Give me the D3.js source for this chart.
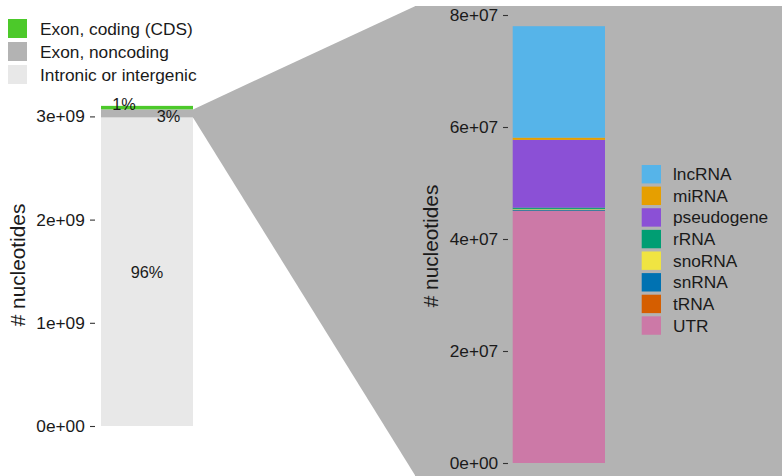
<!DOCTYPE html>
<html>
<head>
<meta charset="utf-8">
<script src="https://cdn.jsdelivr.net/npm/d3@7"></script>
<style>
  html, body { margin: 0; padding: 0; background: #ffffff; }
  svg { display: block; font-family: "Liberation Sans", Arial, Helvetica, sans-serif; }
</style>
</head>
<body>
<svg id="chart" width="782" height="476"></svg>
<script>
// Genome composition (left bar), stacked bottom to top
const genomeParts = ["Intronic or intergenic", "Exon, noncoding", "Exon, coding (CDS)"];
const genomeValues = [2.99e9, 7.8e7, 3.4e7];
const genomeColors = ["#E8E8E8", "#B3B3B3", "#4CC92A"];
const genomeLegendOrder = ["Exon, coding (CDS)", "Exon, noncoding", "Intronic or intergenic"];
const genomeTicks = [0, 1e9, 2e9, 3e9];

// Noncoding exon breakdown (right bar), stacked bottom to top
const ncTypes = ["UTR", "tRNA", "snRNA", "snoRNA", "rRNA", "pseudogene", "miRNA", "lncRNA"];
const ncValues = [4.5e7, 0.006e7, 0.02e7, 0.012e7, 0.022e7, 1.21e7, 0.04e7, 1.99e7];
const ncColors = ["#CC79A7", "#D55E00", "#0072B2", "#F0E442", "#009E73", "#8B50D6", "#E69F00", "#56B4E9"];
const ncLegendOrder = ["lncRNA", "miRNA", "pseudogene", "rRNA", "snoRNA", "snRNA", "tRNA", "UTR"];
const ncTicks = [0, 2e7, 4e7, 6e7, 8e7];

const textColor = "#1a1a1a";
const zoomGrey = "#B3B3B3";

// ggplot-style scientific labels: 3e+09, 0e+00
function sci(v) {
  if (v === 0) return "0e+00";
  const e = Math.floor(Math.log10(Math.abs(v)));
  const m = +(v / Math.pow(10, e)).toFixed(2);
  return m + "e" + (e < 0 ? "-" : "+") + String(Math.abs(e)).padStart(2, "0");
}

function stack(values) {
  let acc = 0;
  return values.map(v => { const s = { y0: acc, y1: acc + v, v }; acc += v; return s; });
}

const svg = d3.select("#chart");

// ---------- left panel scales ----------
const xL = d3.scaleBand().domain(["genome"]).range([101, 193]).padding(0);
const yL = d3.scaleLinear().domain([0, 3e9]).range([426, 116.4]);
const gStack = stack(genomeValues);
const gTotal = d3.sum(genomeValues);

// ---------- right panel geometry ----------
const panel = { x0: 415, y0: 6, x1: 782, y1: 476 };
const xR = d3.scaleBand().domain(["noncoding"]).range([512.7, 605]).padding(0);
const yR = d3.scaleLinear().domain([0, 8e7]).range([463, 15]);
const nStack = stack(ncValues);

// zoom fan joining the noncoding segment to the detail panel
const ncSeg = gStack[1];
const barRight = xL("genome") + xL.bandwidth();
svg.append("path")
  .attr("d", d3.line()([
    [barRight, yL(ncSeg.y1)],
    [panel.x0 + 0.5, panel.y0],
    [panel.x0 + 0.5, panel.y1],
    [barRight, yL(ncSeg.y0)]
  ]) + "Z")
  .attr("fill", zoomGrey);

svg.append("rect")
  .attr("x", panel.x0).attr("y", panel.y0)
  .attr("width", panel.x1 - panel.x0).attr("height", panel.y1 - panel.y0)
  .attr("fill", zoomGrey);

// ---------- left bar ----------
svg.append("g").selectAll("rect").data(gStack).join("rect")
  .attr("x", xL("genome"))
  .attr("width", xL.bandwidth())
  .attr("y", d => yL(d.y1))
  .attr("height", d => yL(d.y0) - yL(d.y1))
  .attr("fill", (d, i) => genomeColors[i]);

// percentage labels (small slices nudged sideways)
const labelNudge = [{ dx: 0, dy: 0 }, { dx: 21.5, dy: 3 }, { dx: -23, dy: -3.2 }];
svg.append("g").selectAll("text").data(gStack).join("text")
  .attr("x", (d, i) => xL("genome") + xL.bandwidth() / 2 + labelNudge[i].dx)
  .attr("y", (d, i) => yL((d.y0 + d.y1) / 2) + labelNudge[i].dy)
  .attr("text-anchor", "middle")
  .attr("dominant-baseline", "central")
  .attr("font-size", 16.3)
  .attr("fill", textColor)
  .text(d => Math.round(d.v / gTotal * 100) + "%");

// left axis
const axL = svg.append("g").attr("transform", "translate(95,0)")
  .call(d3.axisLeft(yL).tickValues(genomeTicks).tickFormat(sci).tickSize(5).tickPadding(5.2));
axL.select(".domain").remove();
axL.selectAll(".tick line").attr("stroke", "#333").attr("stroke-width", 1.1);
axL.selectAll(".tick text").attr("font-size", 17.3).attr("fill", textColor)
  .attr("font-family", "Liberation Sans, Arial, sans-serif");

svg.append("text")
  .attr("transform", "translate(17.5,265) rotate(-90)")
  .attr("text-anchor", "middle").attr("dominant-baseline", "central")
  .attr("font-size", 20.8).attr("fill", textColor)
  .text("# nucleotides");

// left legend
const legL = svg.append("g").selectAll("g").data(genomeLegendOrder).join("g")
  .attr("transform", (d, i) => `translate(8,${19 + i * 23})`);
legL.append("rect").attr("width", 19).attr("height", 19)
  .attr("fill", d => genomeColors[genomeParts.indexOf(d)]);
legL.append("text").attr("x", 32).attr("y", 9.5)
  .attr("dominant-baseline", "central")
  .attr("font-size", 17.3).attr("fill", textColor)
  .text(d => d);

// ---------- right bar ----------
svg.append("g").selectAll("rect").data(nStack).join("rect")
  .attr("x", xR("noncoding"))
  .attr("width", xR.bandwidth())
  .attr("y", d => yR(d.y1))
  .attr("height", d => yR(d.y0) - yR(d.y1))
  .attr("fill", (d, i) => ncColors[i]);

const axR = svg.append("g").attr("transform", "translate(508,0)")
  .call(d3.axisLeft(yR).tickValues(ncTicks).tickFormat(sci).tickSize(5).tickPadding(4.8));
axR.select(".domain").remove();
axR.selectAll(".tick line").attr("stroke", "#333").attr("stroke-width", 1.1);
axR.selectAll(".tick text").attr("font-size", 17.3).attr("fill", textColor)
  .attr("font-family", "Liberation Sans, Arial, sans-serif");

svg.append("text")
  .attr("transform", "translate(430,246) rotate(-90)")
  .attr("text-anchor", "middle").attr("dominant-baseline", "central")
  .attr("font-size", 20.8).attr("fill", textColor)
  .text("# nucleotides");

// right legend
const legR = svg.append("g").selectAll("g").data(ncLegendOrder).join("g")
  .attr("transform", (d, i) => `translate(641.7,${165 + i * 21.62})`);
legR.append("rect").attr("width", 19.3).attr("height", 18.4)
  .attr("fill", d => ncColors[ncTypes.indexOf(d)]);
legR.append("text").attr("x", 31.3).attr("y", 9.2)
  .attr("dominant-baseline", "central")
  .attr("font-size", 17.3).attr("fill", textColor)
  .text(d => d);
</script>
</body>
</html>
